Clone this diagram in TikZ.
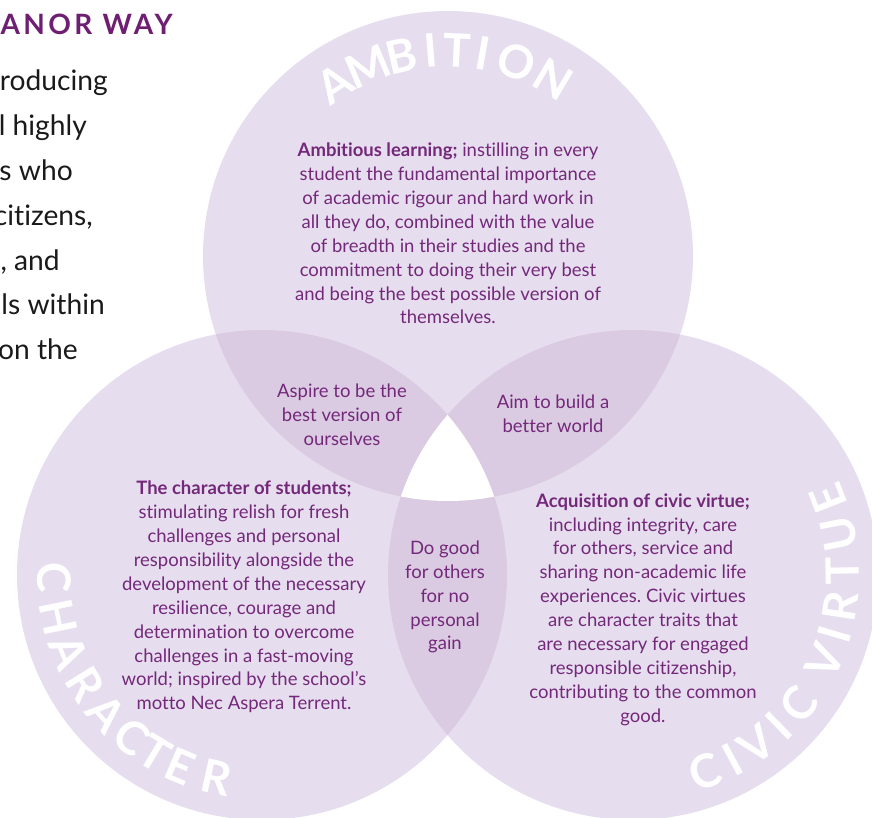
\documentclass[tikz,border=0pt]{standalone}
\usepackage{fontspec}
\setmainfont{Lato}[Ligatures=NoCommon]
\usetikzlibrary{calc}
\frenchspacing
\definecolor{circfill}{HTML}{E6DEEE}
\definecolor{lensfill}{HTML}{DACBE2}
\definecolor{purptext}{HTML}{74287A}
\definecolor{headpurp}{HTML}{6E1F72}
\definecolor{bodyblack}{HTML}{1A1A1A}
\tikzset{
  diagtext/.style={text=purptext, align=center, inner sep=0pt, font=\fontsize{18.5}{23.9}\selectfont},
  bigletter/.style={text=white, inner sep=0pt, font=\fontsize{46}{46}\selectfont\bfseries},
  leftbody/.style={text=bodyblack, inner sep=0pt, anchor=base east, font=\fontsize{28.2}{28}\selectfont},
}
\begin{document}
\begin{tikzpicture}[x=1pt,y=1pt]
\useasboundingbox (0,0) rectangle (872,818);
\clip (0,0) rectangle (872,818);
\coordinate (T) at (448,562);
\coordinate (L) at (262,243);
\coordinate (R) at (633,243);
% circles
\fill[circfill] (T) circle (245);
\fill[circfill] (L) circle (245);
\fill[circfill] (R) circle (245);
% pairwise overlaps
\begin{scope}
  \clip (T) circle (245);
  \fill[lensfill] (L) circle (245);
  \fill[lensfill] (R) circle (245);
\end{scope}
\begin{scope}
  \clip (L) circle (245);
  \fill[lensfill] (R) circle (245);
\end{scope}
% triple overlap
\begin{scope}
  \clip (T) circle (245);
  \clip (L) circle (245);
  \fill[white] (R) circle (245);
\end{scope}
% arc titles
\foreach \ch/\ang [count=\i] in {A/123.4, M/113.0, B/103.2, I/94.8, T/87.4, I/80.1, O/70.6, N/59.2}
  \node[bigletter, rotate=\ang-90] (amb\i) at ($(T)+(\ang:206)$) {\ch};
\foreach \ch/\ang [count=\i] in {C/180.6, H/191.7, A/201.9, R/211.8, A/221.7, C/231.3, T/239, E/246.9, R/257.4}
  \node[bigletter, rotate=\ang+90] (cha\i) at ($(L)+(\ang:208)$) {\ch};
\foreach \ch/\ang [count=\i] in {C/-69.8, I/-61.8, V/-53.9, I/-46, C/-38, V/-24.2, I/-16.3, R/-8.7, T/1, U/11.2, E/21.3}
  \node[bigletter, rotate=\ang+90] (civ\i) at ($(R)+(\ang:210)$) {\ch};
% texts
\node[diagtext] (ambtext) at (448,584.5) {\textbf{Ambitious learning;} instilling in every\\student the fundamental importance\\of academic rigour and hard work in\\all they do, combined with the value\\of breadth in their studies and the\\commitment to doing their very best\\and being the best possible version of\\themselves.};
\node[diagtext] (chatext) at (244,221) {\textbf{The character of students;}\\stimulating relish for fresh\\challenges and personal\\responsibility alongside the\\development of the necessary\\resilience, courage and\\determination to overcome\\challenges in a fast-moving\\world; inspired by the school's\\motto Nec Aspera Terrent.};
\node[diagtext] (civtext) at (643,208.5) {\textbf{Acquisition of civic virtue;}\\including integrity, care\\for others, service and\\sharing non-academic life\\experiences. Civic virtues\\are character traits that\\are necessary for engaged\\responsible citizenship,\\contributing to the common\\good.};
\node[diagtext] (aspire) at (342,403) {Aspire to be the\\best version of\\ourselves};
\node[diagtext] (aim) at (553,404.5) {Aim to build a\\better world};
\node[diagtext] (dogood) at (445,221) {Do good\\for others\\for no\\personal\\gain};
% left partial text
\node[text=headpurp, inner sep=0pt, anchor=base east, font=\fontsize{28}{28}\selectfont\bfseries\addfontfeature{LetterSpace=12}] (heading) at (173,783) {ANOR WAY};
\node[leftbody] (l1) at (108,727) {roducing};
\node[leftbody] (l2) at (87,682.2) {l highly};
\node[leftbody] (l3) at (73,637.4) {s who};
\node[leftbody] (l4) at (93,592.6) {citizens,};
\node[leftbody] (l5) at (60,547.8) {, and};
\node[leftbody] (l6) at (105,503) {ls within};
\node[leftbody] (l7) at (78,458.2) {on the};
\end{tikzpicture}
\end{document}
